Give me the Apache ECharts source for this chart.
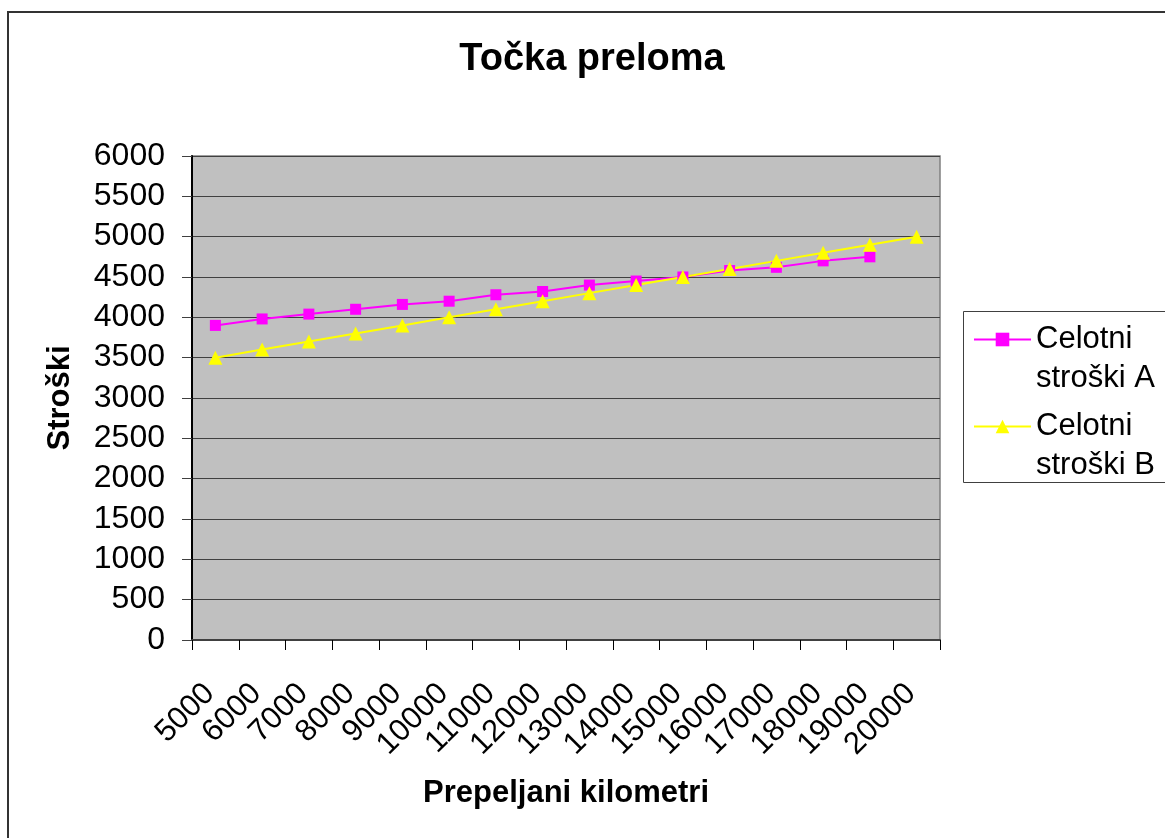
<!DOCTYPE html>
<html>
<head>
<meta charset="utf-8">
<script src="https://cdn.jsdelivr.net/npm/echarts@6/dist/echarts.min.js"></script>
<style>
  html, body { margin: 0; padding: 0; background: #fff; }
  #chart { width: 1165px; height: 838px; }
</style>
</head>
<body>
<div id="chart"></div>
<script>
const kilometers = ['5000', '6000', '7000', '8000', '9000', '10000', '11000', '12000',
  '13000', '14000', '15000', '16000', '17000', '18000', '19000', '20000']
const costsA = [3900, 3980, 4040, 4100, 4160, 4200, 4280, 4320, 4400, 4450, 4500, 4580, 4620, 4700, 4750]
const costsB = [3500, 3600, 3700, 3800, 3900, 4000, 4100, 4200, 4300, 4400, 4500, 4600, 4700, 4800, 4900, 5000]

const font = "'Liberation Sans', Arial, sans-serif"

const chart = echarts.init(document.getElementById('chart'), null, { renderer: 'canvas' })

chart.setOption({
  animation: false,
  backgroundColor: '#ffffff',
  textStyle: { fontFamily: font },
  title: {
    text: 'Točka preloma',
    left: 592,
    top: 41,
    padding: 0,
    textAlign: 'center',
    textStyle: { fontFamily: font, fontSize: 38, fontWeight: 'bold', color: '#000' }
  },
  graphic: [
    {
      type: 'rect',
      shape: { x: 8, y: 12, width: 1200, height: 900 },
      style: { fill: 'none', stroke: '#333', lineWidth: 2 },
      silent: true
    },
    {
      type: 'rect',
      shape: { x: 963.5, y: 311.5, width: 220, height: 171 },
      style: { fill: '#fff', stroke: '#404040', lineWidth: 1 },
      silent: true,
      z: -1
    }
  ],
  legend: {
    orient: 'vertical',
    left: 973,
    top: 281,
    padding: 0,
    itemGap: -30,
    itemWidth: 57,
    itemHeight: 17,
    formatter: name => '\n' + name.replace(' ', '\n'),
    textStyle: { fontFamily: font, fontSize: 31, lineHeight: 39, color: '#000' }
  },
  grid: {
    left: 192,
    right: 225,
    top: 156,
    bottom: 198,
    containLabel: false,
    outerBoundsMode: 'none',
    show: true,
    backgroundColor: '#c0c0c0',
    borderColor: '#808080',
    borderWidth: 1.5
  },
  xAxis: {
    type: 'category',
    data: kilometers,
    boundaryGap: true,
    name: 'Prepeljani kilometri',
    nameLocation: 'middle',
    nameGap: 138,
    nameTextStyle: { fontFamily: font, fontSize: 31, fontWeight: 'bold', color: '#000' },
    axisLine: { show: true, lineStyle: { color: '#404040', width: 2 } },
    axisTick: { show: true, interval: 0, alignWithLabel: false, length: 10, lineStyle: { color: '#000', width: 1 } },
    axisLabel: {
      interval: 0,
      rotate: 45,
      margin: 43,
      padding: [0, 8, 0, 0],
      fontFamily: font,
      fontSize: 31,
      color: '#000'
    },
    splitLine: { show: false }
  },
  yAxis: {
    type: 'value',
    min: 0,
    max: 6000,
    interval: 500,
    name: 'Stroški',
    nameLocation: 'middle',
    nameGap: 116,
    nameTextStyle: { fontFamily: font, fontSize: 31, fontWeight: 'bold', color: '#000' },
    axisLine: { show: true, lineStyle: { color: '#000', width: 2 } },
    axisTick: { show: true, length: 10, lineStyle: { color: '#404040', width: 1 } },
    axisLabel: { margin: 27, fontFamily: font, fontSize: 32, color: '#000', formatter: v => String(v) },
    splitLine: { show: true, lineStyle: { color: '#404040', width: 1 } }
  },
  series: [
    {
      name: 'Celotni stroški A',
      type: 'line',
      data: costsA,
      symbol: 'rect',
      symbolSize: 11,
      lineStyle: { color: '#ff00ff', width: 2 },
      itemStyle: { color: '#ff00ff' }
    },
    {
      name: 'Celotni stroški B',
      type: 'line',
      data: costsB,
      symbol: 'triangle',
      symbolSize: 14,
      lineStyle: { color: '#ffff00', width: 2 },
      itemStyle: { color: '#ffff00' }
    }
  ]
})
</script>
</body>
</html>
